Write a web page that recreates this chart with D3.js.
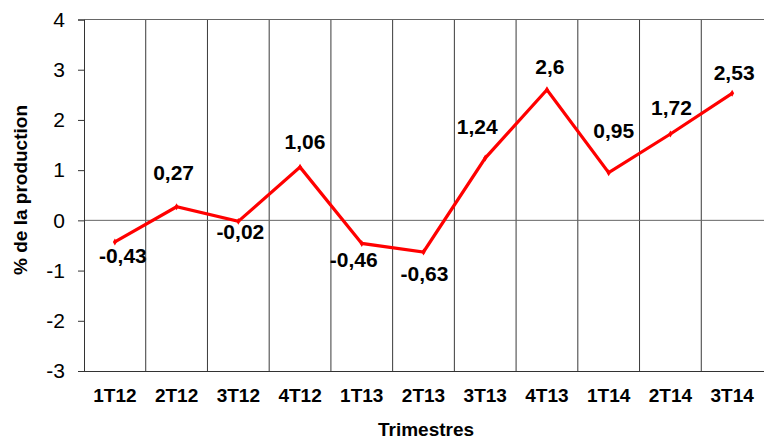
<!DOCTYPE html>
<html>
<head>
<meta charset="utf-8">
<script src="https://cdn.jsdelivr.net/npm/d3@7"></script>
<style>
  body { margin: 0; background: #fff; }
  text { font-family: "Liberation Sans", Arial, sans-serif; fill: #000; }
</style>
</head>
<body>
<div id="chart"></div>
<script>
// data
var categories = ['1T12', '2T12', '3T12', '4T12', '1T13', '2T13', '3T13', '4T13', '1T14', '2T14', '3T14'];
var values = [-0.43, 0.27, -0.02, 1.06, -0.46, -0.63, 1.24, 2.6, 0.95, 1.72, 2.53];
var labels = ['-0,43', '0,27', '-0,02', '1,06', '-0,46', '-0,63', '1,24', '2,6', '0,95', '1,72', '2,53'];
var yTicks = [-3, -2, -1, 0, 1, 2, 3, 4];

// label nudges (px) relative to each point
var labelDx = [8, -3, 2, 5, -8, 1, -8, 3, 5, 1, 2];
var labelDy = [13, -34, 10, -26, 16, 21, -32, -23, -42, -27, -21];

var W = 764, H = 439;
var margin = {top: 19.5, right: 1, bottom: 68, left: 84};

var svg = d3.select('#chart').append('svg')
  .attr('width', W)
  .attr('height', H);

var x = d3.scaleBand()
  .domain(categories)
  .range([margin.left, W - margin.right]);

var y = d3.scaleLinear()
  .domain([-3, 4])
  .range([H - margin.bottom, margin.top]);

// vertical separators between categories
var bounds = categories.map(function(c) { return x(c); }).slice(1);
svg.append('g').selectAll('line')
  .data(bounds)
  .enter().append('line')
  .attr('x1', function(d) { return d; })
  .attr('x2', function(d) { return d; })
  .attr('y1', y(4))
  .attr('y2', y(-3))
  .attr('stroke', '#3a3a3a')
  .attr('stroke-width', 1);

// horizontal lines: top and zero
svg.append('g').selectAll('line')
  .data([4, 0])
  .enter().append('line')
  .attr('x1', margin.left)
  .attr('x2', W)
  .attr('y1', function(d) { return y(d); })
  .attr('y2', function(d) { return y(d); })
  .attr('stroke', '#666')
  .attr('stroke-width', 1);

// y axis
var yAxis = svg.append('g')
  .attr('transform', 'translate(' + margin.left + ',0)')
  .call(d3.axisLeft(y).tickValues(yTicks).tickSize(6).tickPadding(13)
    .tickFormat(function(d) { return d; }));
yAxis.selectAll('path, line').attr('stroke', '#333');
yAxis.selectAll('text')
  .style('font-size', '21px')
  .style('font-family', '"Liberation Sans", Arial, sans-serif')
  .attr('fill', '#000');

// x axis
var xAxis = svg.append('g')
  .attr('transform', 'translate(0,' + y(-3) + ')')
  .call(d3.axisBottom(x).tickSize(0).tickPadding(18).tickSizeOuter(0));
xAxis.select('.domain').attr('stroke', '#333').attr('d', 'M' + margin.left + ',0.5H' + W);
xAxis.selectAll('text')
  .style('font-size', '19px')
  .style('font-weight', 'bold')
  .style('font-family', '"Liberation Sans", Arial, sans-serif')
  .attr('fill', '#000');

// line
var pts = categories.map(function(c, i) {
  return {cat: c, v: values[i], label: labels[i], dx: labelDx[i], dy: labelDy[i]};
});
var line = d3.line()
  .x(function(d) { return x(d.cat) + x.bandwidth() / 2; })
  .y(function(d) { return y(d.v); });

svg.append('path')
  .datum(pts)
  .attr('d', line)
  .attr('fill', 'none')
  .attr('stroke', '#ff0000')
  .attr('stroke-width', 3.2)
  .attr('stroke-linejoin', 'miter');

// tiny diamond markers
svg.append('g').selectAll('path')
  .data(pts)
  .enter().append('path')
  .attr('d', d3.symbol().type(d3.symbolDiamond).size(14))
  .attr('transform', function(d) {
    return 'translate(' + (x(d.cat) + x.bandwidth() / 2) + ',' + y(d.v) + ')';
  })
  .attr('fill', '#ff0000');

// value labels
svg.append('g').selectAll('text')
  .data(pts)
  .enter().append('text')
  .attr('x', function(d) { return x(d.cat) + x.bandwidth() / 2 + d.dx; })
  .attr('y', function(d) { return y(d.v) + d.dy; })
  .attr('dy', '0.36em')
  .attr('text-anchor', 'middle')
  .style('font-size', '21px')
  .style('font-weight', 'bold')
  .text(function(d) { return d.label; });

// axis titles
svg.append('text')
  .attr('x', (margin.left + W) / 2 + 2)
  .attr('y', 436)
  .attr('text-anchor', 'middle')
  .style('font-size', '19px')
  .style('font-weight', 'bold')
  .text('Trimestres');

svg.append('text')
  .attr('transform', 'translate(27,190) rotate(-90)')
  .attr('text-anchor', 'middle')
  .style('font-size', '19px')
  .style('font-weight', 'bold')
  .text('% de la production');
</script>
</body>
</html>
